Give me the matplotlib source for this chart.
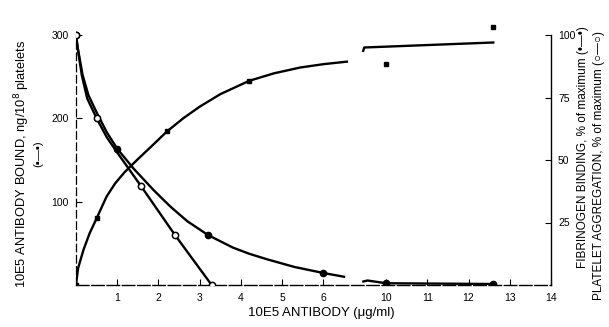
import numpy as np
import matplotlib
matplotlib.use("Agg")
import matplotlib.pyplot as plt

plt.rcParams['font.family'] = ['Liberation Sans', 'DejaVu Sans']

# 10E5 antibody bound, ng/10^8 platelets (left axis)
ab_x = [0, 0.5, 2.2, 4.2, 10, 12.6]
ab_y = [0, 80, 185, 245, 265, 310]
ab_curve1_x = [0, 0.05, 0.18, 0.33, 0.5, 0.74, 0.95, 1.19, 1.5, 1.8, 2.2,
               2.6, 3.0, 3.5, 4.2, 4.8, 5.44, 6.0, 6.57]
ab_curve1_y = [0, 20, 42, 62, 80, 106, 122, 136, 151, 165, 184,
               200, 214, 229, 245, 254, 261, 265, 268]
ab_curve2_x = [9.42, 9.47, 12.6]
ab_curve2_y = [281, 285, 291]

# fibrinogen binding, % of maximum (right axis)
fb_x = [0, 1, 3.2, 6, 10, 12.6]
fb_y = [100, 54.5, 20, 4.8, 0.7, 0.4]
fb_curve1_x = [0, 0.04, 0.16, 0.3, 0.5, 0.75, 1, 1.4, 1.88, 2.28, 2.7,
               3.2, 3.8, 4.2, 4.63, 5.3, 6, 6.5]
fb_curve1_y = [100, 95, 84, 76, 69, 61, 54.5, 46.5, 38, 31.5, 25.5,
               20, 15, 12.5, 10.3, 7.2, 4.8, 3.3]
fb_curve2_x = [9.45, 9.55, 10, 12.6]
fb_curve2_y = [1.4, 1.8, 0.7, 0.4]

# platelet aggregation, % of maximum (right axis)
pa_x = [0, 0.5, 1.58, 2.4, 3.29]
pa_y = [100, 66.7, 39.5, 20, 0]
pa_curve_x = [0, 0.03, 0.14, 0.27, 0.5, 0.75, 1.0, 1.58, 2.4, 3.29]
pa_curve_y = [100, 96, 84, 74.7, 66.7, 59, 53, 39.5, 20, 0]

xticks = [1, 2, 3, 4, 5, 6, 10, 11, 12, 13, 14]
left_ticks = [100, 200, 300]
right_ticks = [25, 50, 75, 100]


# broken x axis: 6.6 .. 9.45 squeezed into a small gap
def fwd(x):
    x = np.asarray(x, float)
    return np.where(x <= 6.6, x, np.where(x >= 9.45, x - 2.48, 6.6 + (x - 6.6) * 0.37 / 2.85))


def inv(u):
    u = np.asarray(u, float)
    return np.where(u <= 6.6, u, np.where(u >= 6.97, u + 2.48, 6.6 + (u - 6.6) * 2.85 / 0.37))


fig = plt.figure(figsize=(6.09, 3.27), dpi=100)
ax = fig.add_axes([76 / 609, 1 - 285 / 327, 475 / 609, 265 / 327])
ax.set_xscale('function', functions=(fwd, inv))
ax.set_xlim(0, 14)
ax.set_ylim(0, 318)
ax2 = ax.twinx()
ax2.set_ylim(0, 106)

lw = 1.7
ax.plot(ab_curve1_x, ab_curve1_y, color='black', lw=lw, zorder=2)
ax.plot(ab_curve2_x, ab_curve2_y, color='black', lw=lw, zorder=2)
ax.plot(ab_x, ab_y, 's', color='black', ms=3, zorder=4)

ax2.plot(fb_curve1_x, fb_curve1_y, color='black', lw=lw, zorder=2)
ax2.plot(fb_curve2_x, fb_curve2_y, color='black', lw=lw, zorder=2)
ax2.plot(fb_x, fb_y, 'o', color='black', ms=4.5, zorder=4)

ax2.plot(pa_curve_x, pa_curve_y, color='black', lw=lw, zorder=2)
ax2.plot(pa_x, pa_y, 'o', mfc='white', mec='black', mew=1.1, ms=4.5, zorder=5)

for a in (ax, ax2):
    a.spines['top'].set_visible(False)
ax.spines['right'].set_visible(False)
ax2.spines['left'].set_visible(False)
ax2.spines['bottom'].set_visible(False)
ax.spines['left'].set_bounds(0, 300)
ax.spines['left'].set_linestyle((0, (6, 3)))
ax.spines['left'].set_linewidth(0.9)
ax.spines['bottom'].set_linestyle((0, (9, 2)))
ax.spines['bottom'].set_linewidth(1.0)
ax2.spines['right'].set_bounds(0, 100)
ax2.spines['right'].set_linewidth(1.0)

ax.set_xticks(xticks)
ax.set_xticklabels([str(t) for t in xticks])
ax.xaxis.set_minor_locator(matplotlib.ticker.NullLocator())
ax.tick_params(axis='x', direction='in', length=4, labelsize=7.5, pad=6)
ax.set_yticks(left_ticks)
ax.set_yticklabels([str(t) for t in left_ticks])
ax.tick_params(axis='y', direction='in', length=4, labelsize=7.5, pad=5)
ax2.set_yticks(right_ticks)
ax2.set_yticklabels([str(t) for t in right_ticks])
ax2.tick_params(axis='y', direction='in', length=4, labelsize=7.5, pad=5)

fig.text(0.527, 0.043, "10E5 ANTIBODY (\u03bcg/ml)", ha='center', va='center', fontsize=9.5)
fig.text(0.036, 0.498, "10E5 ANTIBODY BOUND, ng/10$^{8}$ platelets",
         rotation=90, ha='center', va='center', fontsize=9.3)
fig.text(0.063, 0.529, "(\u25aa\u2014\u25aa)", rotation=90, ha='center', va='center', fontsize=8)
fig.text(0.958, 0.55, "FIBRINOGEN BINDING, % of maximum (\u2022\u2014\u2022)",
         rotation=90, ha='center', va='center', fontsize=8.5)
fig.text(0.984, 0.495, "PLATELET AGGREGATION, % of maximum (\u25cb\u2014\u25cb)",
         rotation=90, ha='center', va='center', fontsize=8.5)

fig.savefig("out.png", dpi=100)
